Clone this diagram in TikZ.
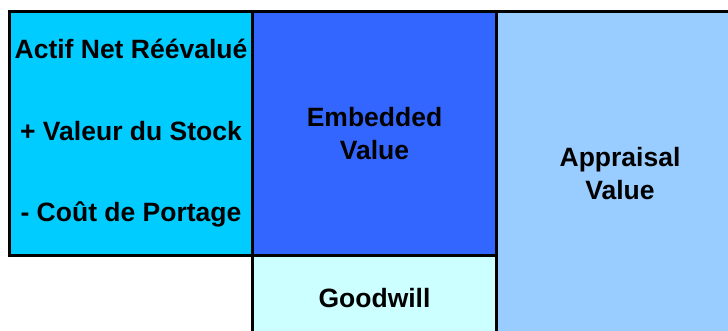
\documentclass[tikz,border=0pt]{standalone}
\usepackage{fontspec}
\setmainfont{Liberation Sans}
\usetikzlibrary{positioning}
\definecolor{avcyan}{RGB}{0,204,255}
\definecolor{avblue}{RGB}{51,102,255}
\definecolor{avpale}{RGB}{204,255,255}
\definecolor{avsky}{RGB}{153,204,255}

\begin{document}
\begin{tikzpicture}[
    x=1pt, y=-1pt,
    block/.style={draw=black, line width=3pt, inner sep=0pt, outer sep=0pt,
      align=center, font=\fontsize{26.5}{33}\selectfont\bfseries}
  ]
  \useasboundingbox (0,0) rectangle (728,331);
  \clip (0,0) rectangle (728,331);

  %% --- Net asset value side ---
  \node[block, fill=avcyan, minimum width=243pt, minimum height=244pt, anchor=north west] (anr) at (9.5,11.5)
    {Actif Net Réévalué\\[48.5pt]
     + Valeur du Stock\\[48.5pt]
     - Coût de Portage};

  %% --- Embedded value and goodwill ---
  \node[block, fill=avblue, minimum width=244pt, minimum height=244pt, anchor=north west] (ev) at (anr.north east)
    {Embedded\\Value};
  \node[block, fill=avpale, minimum width=244pt, minimum height=84.5pt, anchor=north west] (gw) at (ev.south west)
    {Goodwill};

  %% --- Appraisal value ---
  \node[block, fill=avsky, minimum width=247pt, minimum height=324pt, anchor=north west] (av) at (ev.north east)
    {Appraisal\\Value};
\end{tikzpicture}
\end{document}
